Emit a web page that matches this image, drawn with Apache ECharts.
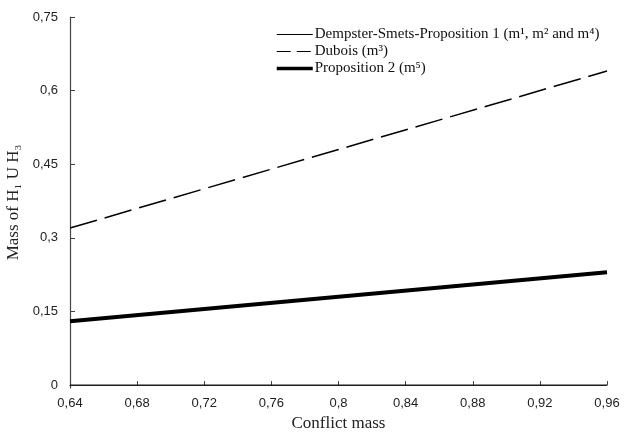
<!DOCTYPE html>
<html>
<head>
<meta charset="utf-8">
<script src="https://cdn.jsdelivr.net/npm/echarts@6/dist/echarts.min.js"></script>
<style>
  html, body { margin: 0; padding: 0; background: #fff; }
  #chart { width: 625px; height: 435px; }
</style>
</head>
<body>
<div id="chart"></div>
<script>
// conflict mass values (x)
const conflict = [0.64, 0.8, 0.96]
// series values
const dempster = [0, 0, 0]
const dubois = [0.32, 0.48, 0.64]
const prop2 = [0.13, 0.18, 0.23]

const xTicks = [0.64, 0.68, 0.72, 0.76, 0.8, 0.84, 0.88, 0.92, 0.96]
const yTicks = [0, 0.15, 0.3, 0.45, 0.6, 0.75]

const names = [
  'Dempster-Smets-Proposition 1 (m¹, m² and m⁴)',
  'Dubois (m³)',
  'Proposition 2 (m⁵)'
]

const comma = v => String(Math.round(v * 100) / 100).replace('.', ',')
const pairs = ys => conflict.map((x, i) => [x, ys[i]])

// line styles, shared by series and legend
const styles = [
  { color: '#000', width: 1 },
  { color: '#000', width: 1.5, type: [28, 8] },
  { color: '#000', width: 4 }
]
const legendStyles = [
  { color: '#000', width: 1 },
  { color: '#000', width: 1, type: [14, 6] },
  { color: '#000', width: 3.5 }
]

const chart = echarts.init(document.getElementById('chart'))

chart.setOption({
  animation: false,
  grid: { left: 70, right: 18, top: 17, bottom: 47, outerBoundsMode: 'none' },
  legend: {
    orient: 'vertical',
    left: 270,
    top: 22,
    itemWidth: 36,
    itemHeight: 10,
    itemGap: 2,
    itemStyle: { opacity: 0 },
    textStyle: { fontFamily: 'Liberation Serif', fontSize: 15, lineHeight: 14, color: '#111', padding: [0, 0, 0, -3] },
    data: names.map((n, i) => ({ name: n, lineStyle: legendStyles[i] }))
  },
  xAxis: {
    type: 'value',
    min: 0.64,
    max: 0.96,
    name: 'Conflict mass',
    nameLocation: 'middle',
    nameGap: 27,
    nameTextStyle: { fontFamily: 'Liberation Serif', fontSize: 17, color: '#222' },
    axisLine: { lineStyle: { color: '#444', width: 1.2 } },
    axisTick: { inside: true, length: 4, customValues: xTicks, lineStyle: { color: '#444' } },
    axisLabel: {
      customValues: xTicks,
      formatter: comma,
      margin: 9,
      fontFamily: 'Liberation Sans',
      fontSize: 13,
      color: '#222'
    },
    splitLine: { show: false }
  },
  yAxis: {
    type: 'value',
    min: -0.006,
    max: 0.75,
    name: 'Mass of H₁ U H₃',
    nameLocation: 'middle',
    nameGap: 44,
    nameTextStyle: { fontFamily: 'Liberation Serif', fontSize: 17, color: '#222' },
    axisLine: { show: true, lineStyle: { color: '#444', width: 1.2 } },
    axisTick: { show: true, inside: true, length: 5, customValues: yTicks, lineStyle: { color: '#444' } },
    axisLabel: {
      customValues: yTicks,
      formatter: comma,
      margin: 12,
      fontFamily: 'Liberation Sans',
      fontSize: 13,
      color: '#222'
    },
    splitLine: { show: false }
  },
  series: [dempster, dubois, prop2].map((ys, i) => ({
    name: names[i],
    type: 'line',
    data: pairs(ys),
    symbol: 'none',
    lineStyle: styles[i]
  }))
})
</script>
</body>
</html>
